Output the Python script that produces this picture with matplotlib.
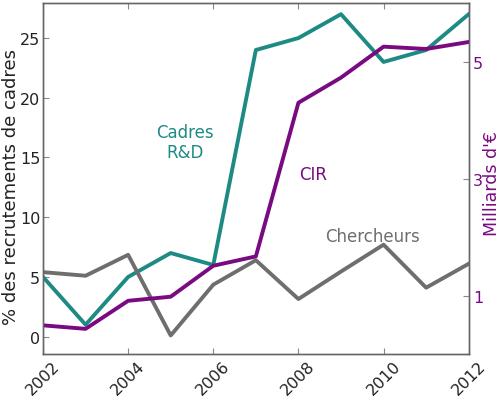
import matplotlib
matplotlib.use("Agg")
import matplotlib.pyplot as plt

years = [2002, 2003, 2004, 2005, 2006, 2007, 2008, 2009, 2010, 2011, 2012]
cadres_rd = [5, 1, 5, 7, 6, 24, 25, 27, 23, 24, 27]
chercheurs = [5.4, 5.1, 6.85, 0.1, 4.35, 6.4, 3.15, 5.45, 7.7, 4.1, 6.1]
cir = [0.49, 0.43, 0.91, 0.98, 1.51, 1.67, 4.30, 4.73, 5.26, 5.22, 5.34]

teal = "#1e8a84"
purple = "#7a0a82"
gray = "#6e6e6e"

fig = plt.figure(figsize=(5, 4.02), dpi=100)
ax = fig.add_axes([0.086, 0.117, 0.8514, 0.872])
ax2 = ax.twinx()

ax.plot(years, cadres_rd, color=teal, lw=2.8)
ax.plot(years, chercheurs, color=gray, lw=2.8)
ax2.plot(years, cir, color=purple, lw=2.8)

ax.set_xlim(2002, 2012)
ax.set_ylim(-1.45, 27.9)
ax2.set_ylim(0, 6)

ax.set_xticks([2002, 2004, 2006, 2008, 2010, 2012])
ax.set_yticks([0, 5, 10, 15, 20, 25])
ax2.set_yticks([1, 3, 5])

for a in (ax, ax2):
    for s in a.spines.values():
        s.set_color("#666666")
        s.set_linewidth(1.0)
ax.tick_params(axis="both", direction="in", length=4, color="#888888",
               labelsize=11.5, labelcolor="#222222", top=True)
ax.tick_params(axis="y", pad=2)
ax.tick_params(axis="x", pad=3)
for lbl in ax.get_xticklabels():
    lbl.set_rotation(45)
    lbl.set_ha("center")
ax2.tick_params(axis="y", direction="in", length=4, color="#888888",
                labelsize=11.5, labelcolor=purple, pad=3)

ax.set_ylabel("% des recrutements de cadres", fontsize=13, color="#222222")
ax.yaxis.set_label_coords(-0.054, 0.48)
ax2.set_ylabel("Milliards d'€", fontsize=12.5, color=purple)
ax2.yaxis.set_label_coords(1.034, 0.49)

ax.text(2005.34, 16.3, "Cadres\nR&D", color=teal, fontsize=12, ha="center", va="center",
        linespacing=1.2)
ax.text(2008.34, 13.6, "CIR", color=purple, fontsize=12, ha="center", va="center")
ax.text(2009.73, 8.4, "Chercheurs", color=gray, fontsize=12, ha="center", va="center")

fig.savefig("out.png", dpi=100)
